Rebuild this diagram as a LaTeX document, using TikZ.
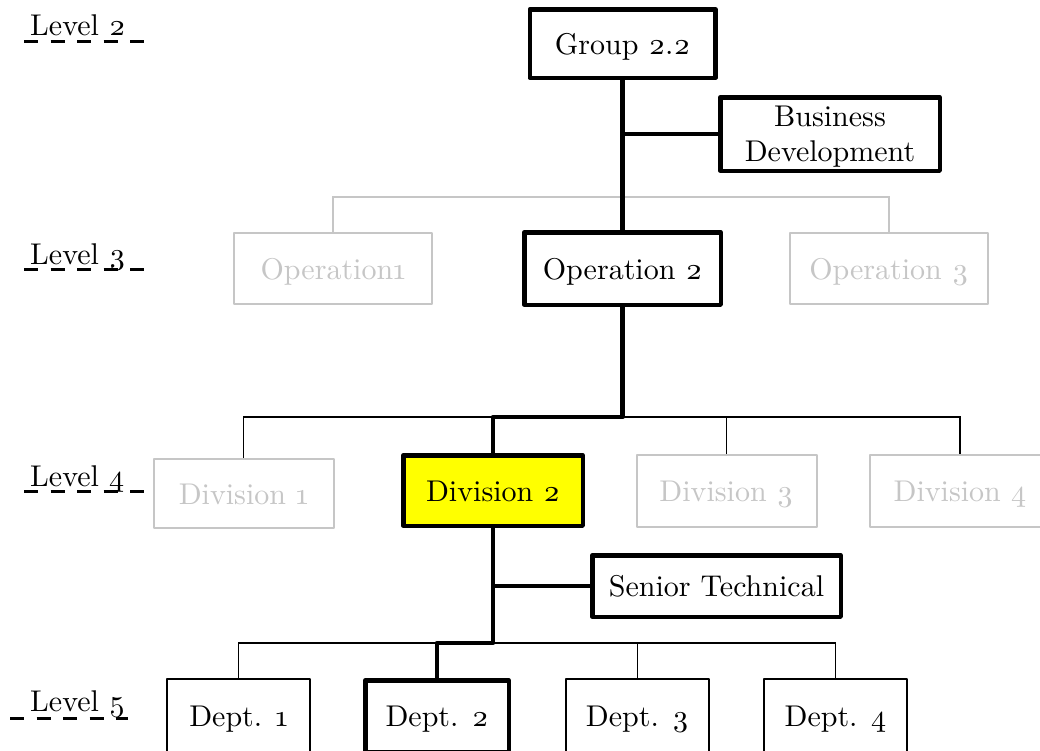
\documentclass[tikz,border=0pt]{standalone}
\usepackage{fontspec}
\setmainfont{lmroman10-regular}[Extension=.otf, Numbers=OldStyle]
\usetikzlibrary{calc}
\definecolor{faintgray}{HTML}{C6C6C6}
\definecolor{highlight}{HTML}{FFFF00}

\begin{document}
\begin{tikzpicture}[x=1pt,y=-1pt,
  every node/.style={font=\fontsize{30}{35}\selectfont, inner sep=0pt},
  box/.style={draw, rectangle, line join=round},
  oneline/.style={text height=21pt, text depth=0pt},
  mainbox/.style={box, line width=4.5pt},
  dimbox/.style={box, oneline, draw=faintgray, text=faintgray, line width=2pt},
  plainbox/.style={box, oneline, line width=1.6pt},
  trunk/.style={line width=4.5pt, line join=round},
  bus/.style={line width=1.6pt},
  dimbus/.style={line width=2pt, draw=faintgray},
  levelrule/.style={line width=3pt, dash pattern=on 14pt off 12.5pt},
  levellabel/.style={anchor=base west},
]
\useasboundingbox (0,0) rectangle (1040,750);

% level markers
\node[levellabel] (lv2) at (30,35)  {Level 2};
\node[levellabel] (lv3) at (30,264) {Level 3};
\node[levellabel] (lv4) at (30,486) {Level 4};
\node[levellabel] (lv5) at (30,711) {Level 5};
\draw[levelrule] ($(lv2.base west)+(-6,6)$) -- ++(121,0);
\draw[levelrule] ($(lv3.base west)+(-6,5)$) -- ++(121,0);
\draw[levelrule] ($(lv4.base west)+(-6,5)$) -- ++(121,0);
\draw[levelrule] ($(lv5.base west)+(-20,7)$) -- ++(118,0);

% level 2
\node[mainbox, oneline, minimum width=185.5pt, minimum height=68.5pt] (grp) at (622.5,43.5) {Group 2.2};
\node[mainbox, align=center, text depth=0pt, minimum width=219.5pt, minimum height=73.5pt] (bd) at (830,134) {Business\\Development};

% level 3
\node[dimbox, minimum width=198pt, minimum height=71pt] (op1) at (333,268.5) {Operation1};
\node[mainbox, oneline, minimum width=196.5pt, minimum height=72.5pt] (op2) at (622.5,268.5) {Operation 2};
\node[dimbox, minimum width=198pt, minimum height=71pt] (op3) at (889,268.5) {Operation 3};

% level 4
\node[dimbox, minimum width=180pt, minimum height=69pt] (div1) at (243.5,493.5) {Division 1};
\node[mainbox, oneline, fill=highlight, minimum width=179.5pt, minimum height=70.5pt] (div2) at (493,490.5) {Division 2};
\node[dimbox, minimum width=180pt, minimum height=72pt] (div3) at (726.5,491) {Division 3};
\node[dimbox, minimum width=180pt, minimum height=72pt] (div4) at (960,491) {Division 4};
\node[mainbox, oneline, minimum width=248.5pt, minimum height=61.5pt] (st) at (716.5,586) {Senior Technical};

% level 5
\node[plainbox, minimum width=143.4pt, minimum height=74.4pt] (dept1) at (238.5,716) {Dept. 1};
\node[mainbox, oneline, minimum width=143.5pt, minimum height=71.5pt] (dept2) at (437,716) {Dept. 2};
\node[plainbox, minimum width=143.4pt, minimum height=74.4pt] (dept3) at (637.5,716) {Dept. 3};
\node[plainbox, minimum width=143.4pt, minimum height=74.4pt] (dept4) at (835.5,716) {Dept. 4};

% bus heights
\coordinate (opbus) at (0,197);
\coordinate (divbus) at (0,417);
\coordinate (deptbus) at (0,643);

% plain connectors
\draw[dimbus] (op1.north) -- (op1.north |- opbus) -- (op3.north |- opbus) -- (op3.north);
\draw[bus] (div1.north) -- (div1.north |- divbus) -- (div4.north |- divbus) -- (div4.north);
\draw[bus] (div3.north) -- (div3.north |- divbus);
\draw[bus] (dept1.north) -- (dept1.north |- deptbus) -- (dept4.north |- deptbus) -- (dept4.north);
\draw[bus] (dept3.north) -- (dept3.north |- deptbus);

% reporting line
\draw[trunk] (grp.south) -- (op2.north);
\draw[trunk] (grp.south |- bd.west) -- (bd.west);
\draw[trunk] (op2.south) -- (op2.south |- divbus) -| (div2.north);
\draw[trunk] (div2.south) -- (div2.south |- deptbus) -| (dept2.north);
\draw[trunk] (div2.south |- st.west) -- (st.west);
\end{tikzpicture}
\end{document}
